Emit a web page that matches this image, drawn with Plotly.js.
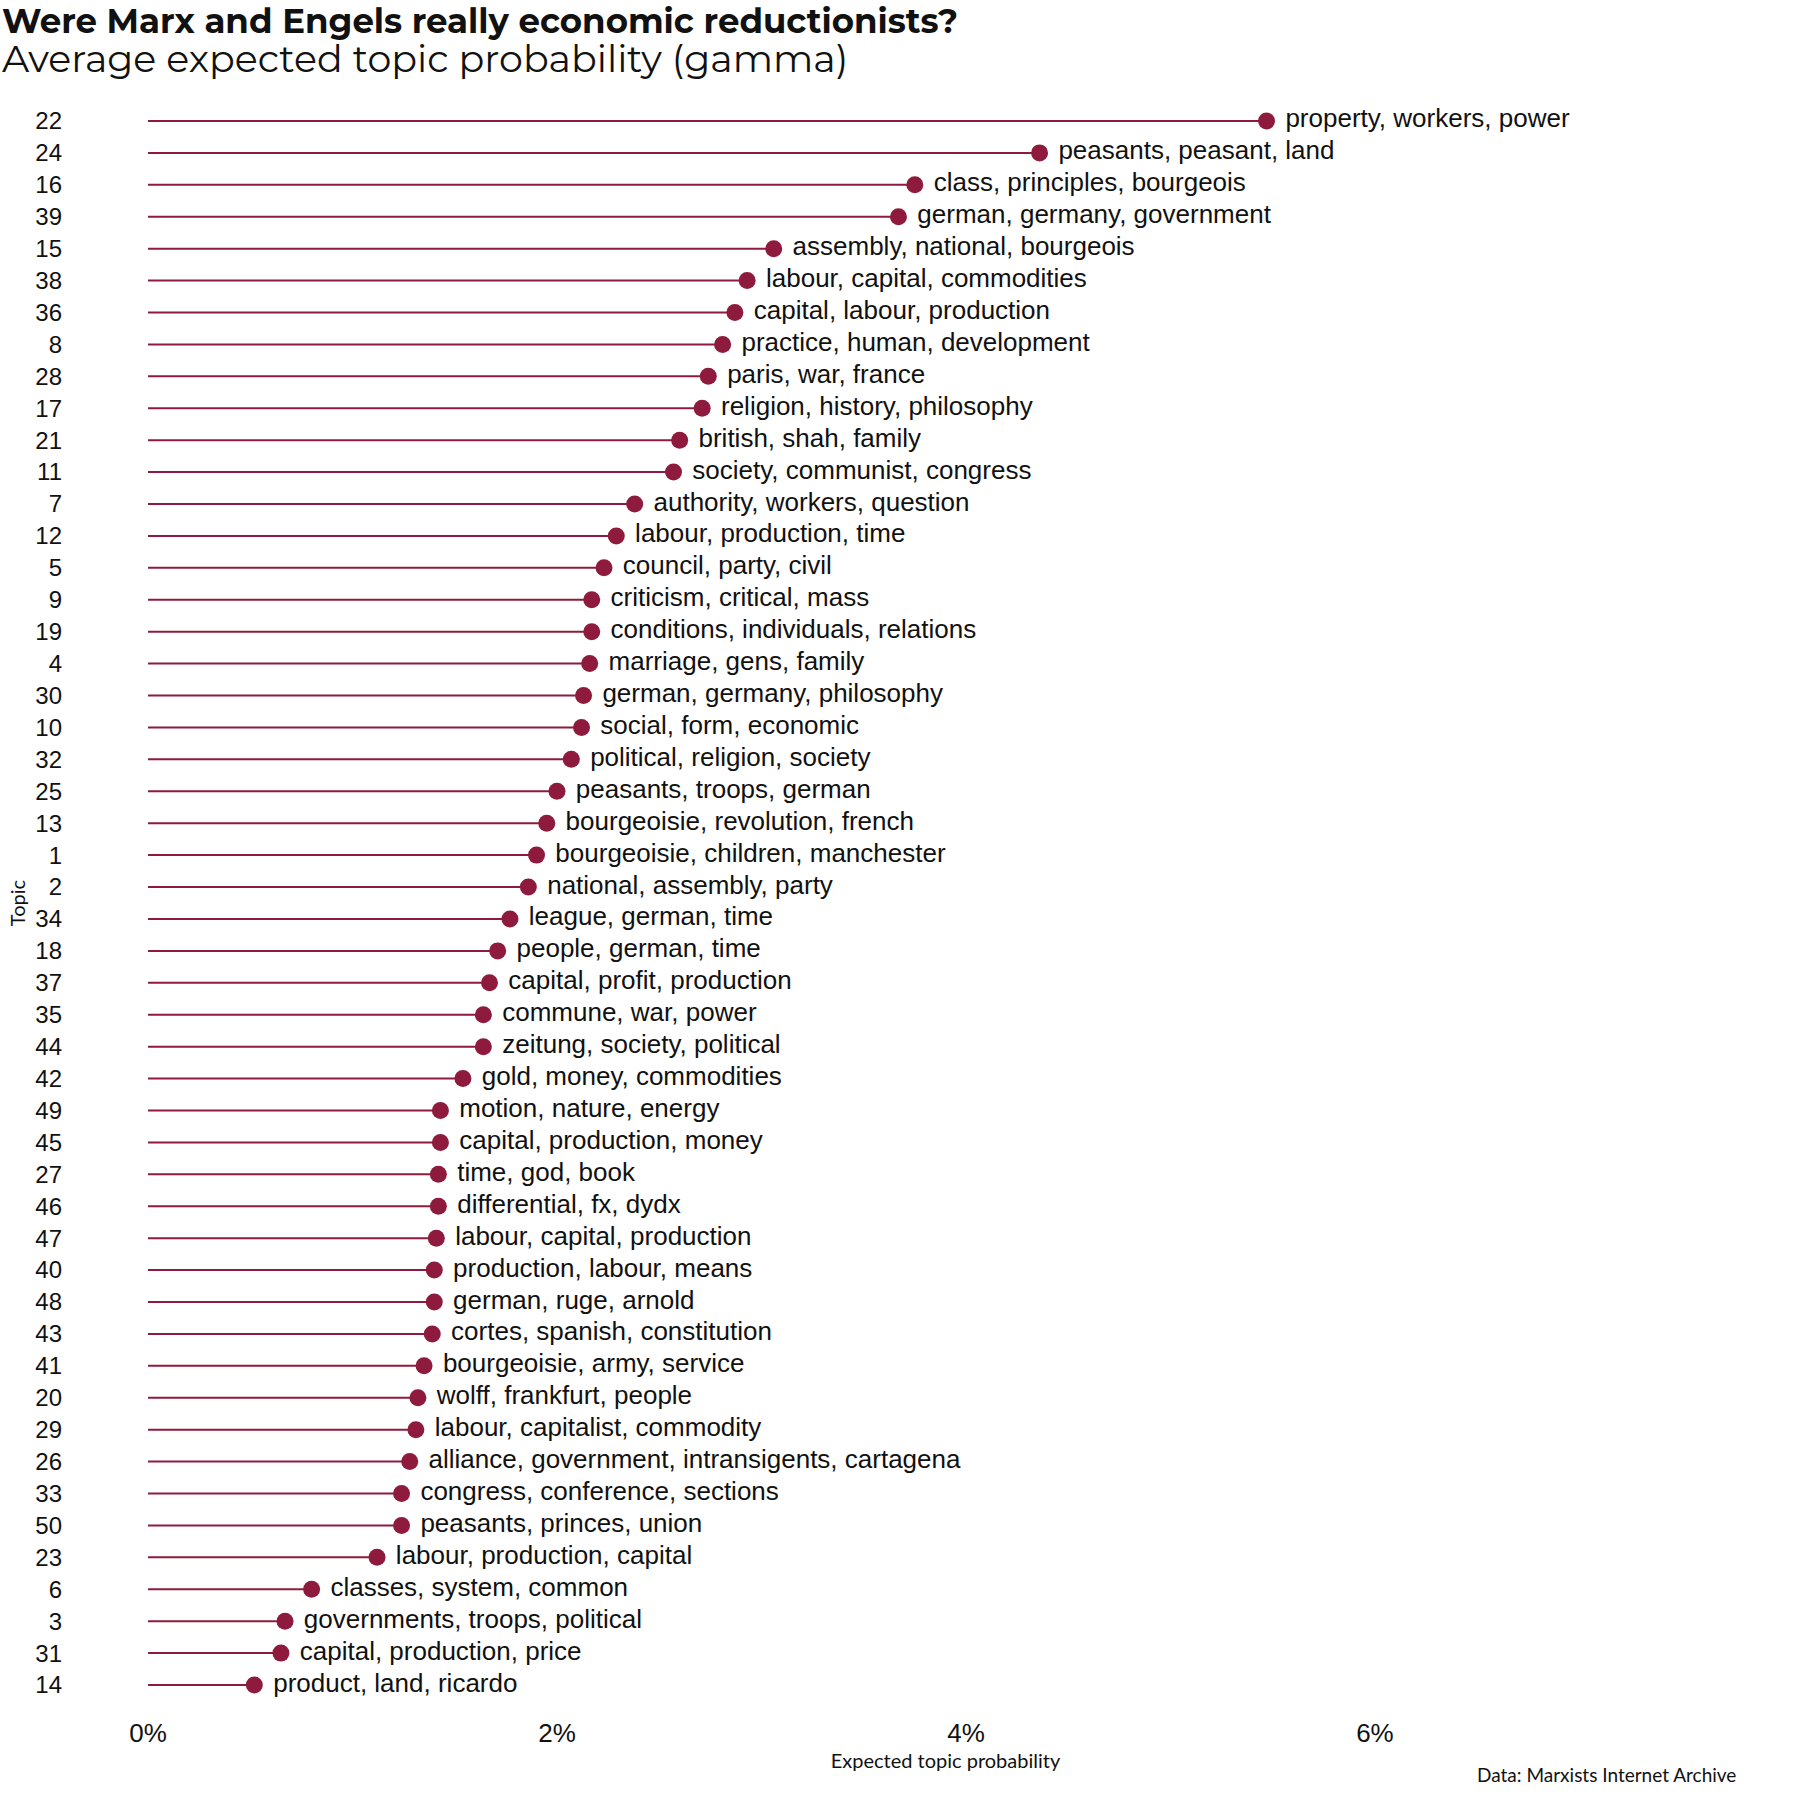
<!DOCTYPE html>
<html>
<head>
<meta charset="utf-8">
<script src="https://cdn.plot.ly/plotly-3.0.1.min.js"></script>
<style>body{margin:0;background:#fff}</style>
</head>
<body>
<div id="chart" style="width:1800px;height:1800px"></div>
<script>
// topics in display order, top to bottom
const topics = [22,24,16,39,15,38,36,8,28,17,21,11,7,12,5,9,19,4,30,10,32,25,13,1,2,34,18,37,35,44,42,49,45,27,46,47,40,48,43,41,20,29,26,33,50,23,6,3,31,14];
const gamma = [5.47,4.36,3.75,3.67,3.06,2.93,2.87,2.81,2.74,2.71,2.60,2.57,2.38,2.29,2.23,2.17,2.17,2.16,2.13,2.12,2.07,2.00,1.95,1.90,1.86,1.77,1.71,1.67,1.64,1.64,1.54,1.43,1.43,1.42,1.42,1.41,1.40,1.40,1.39,1.35,1.32,1.31,1.28,1.24,1.24,1.12,0.80,0.67,0.65,0.52];
const terms = [
  'property, workers, power','peasants, peasant, land','class, principles, bourgeois','german, germany, government',
  'assembly, national, bourgeois','labour, capital, commodities','capital, labour, production','practice, human, development',
  'paris, war, france','religion, history, philosophy','british, shah, family','society, communist, congress',
  'authority, workers, question','labour, production, time','council, party, civil','criticism, critical, mass',
  'conditions, individuals, relations','marriage, gens, family','german, germany, philosophy','social, form, economic',
  'political, religion, society','peasants, troops, german','bourgeoisie, revolution, french','bourgeoisie, children, manchester',
  'national, assembly, party','league, german, time','people, german, time','capital, profit, production',
  'commune, war, power','zeitung, society, political','gold, money, commodities','motion, nature, energy',
  'capital, production, money','time, god, book','differential, fx, dydx','labour, capital, production',
  'production, labour, means','german, ruge, arnold','cortes, spanish, constitution','bourgeoisie, army, service',
  'wolff, frankfurt, people','labour, capitalist, commodity','alliance, government, intransigents, cartagena','congress, conference, sections',
  'peasants, princes, union','labour, production, capital','classes, system, common','governments, troops, political',
  'capital, production, price','product, land, ricardo'
];

const color = '#8E1B3E';
const cats = topics.map(String);
const segX = [], segY = [];
gamma.forEach((g, i) => { segX.push(0, g, null); segY.push(cats[i], cats[i], null); });

const data = [
  {x: segX, y: segY, type: 'scatter', mode: 'lines', line: {color: color, width: 2}, hoverinfo: 'skip'},
  {x: gamma, y: cats, type: 'scatter', mode: 'markers+text', text: terms.map(t => ' ' + t),
   textposition: 'middle right', textfont: {family: 'Liberation Sans', size: 26, color: '#111'},
   marker: {color: color, size: 17}, cliponaxis: false}
];

const layout = {
  width: 1800, height: 1800, showlegend: false,
  paper_bgcolor: '#fff', plot_bgcolor: '#fff',
  margin: {l: 148, r: 57, t: 105, b: 99},
  font: {family: 'Liberation Sans', color: '#111'},
  xaxis: {range: [0, 7.8], tickvals: [0, 2, 4, 6], ticktext: ['0%', '2%', '4%', '6%'],
          showgrid: false, zeroline: false, showline: false, ticks: '',
          tickfont: {size: 26}, ticklabelstandoff: 14,
          title: {text: 'Expected topic probability', font: {family: 'Lato', size: 20}, standoff: 6}},
  yaxis: {type: 'category', categoryorder: 'array', categoryarray: cats.slice().reverse(),
          range: [-0.5, 49.5], showgrid: false, zeroline: false, showline: false, ticks: '',
          tickfont: {size: 24}, ticklabelstandoff: 85,
          title: {text: 'Topic', font: {family: 'Lato', size: 20}, standoff: 4}},
  annotations: [
    {text: '<b>Were Marx and Engels really economic reductionists?</b>', xref: 'paper', yref: 'paper',
     x: -148/1595, y: 1 + 107/1596, xanchor: 'left', yanchor: 'top', showarrow: false,
     font: {family: 'Montserrat, Open Sans', size: 34}},
    {text: 'Average expected topic probability (gamma)', xref: 'paper', yref: 'paper',
     x: -148/1595, y: 1 + 46/1596, xanchor: 'left', yanchor: 'middle', showarrow: false,
     font: {family: 'Montserrat, Open Sans', size: 38}},
    {text: 'Data: Marxists Internet Archive', xref: 'paper', yref: 'paper',
     x: 1 - 5/1595, y: -(1800 - 105 - 1596 - 12)/1596, xanchor: 'right', yanchor: 'bottom', showarrow: false,
     font: {family: 'Lato', size: 19}}
  ]
};
Plotly.newPlot('chart', data, layout, {displayModeBar: false});
</script>
</body>
</html>
